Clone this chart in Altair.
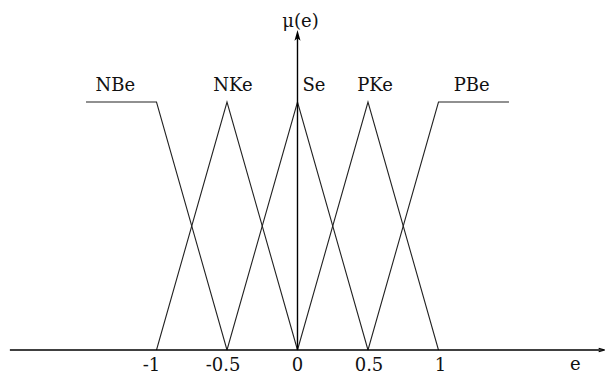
import altair as alt
import pandas as pd

# Membership functions for the error e
sets = ["NBe", "NKe", "Se", "PKe", "PBe"]
e_points = {
    "NBe": [-1.5, -1.0, -0.5],
    "NKe": [-1.0, -0.5, 0.0],
    "Se": [-0.5, 0.0, 0.5],
    "PKe": [0.0, 0.5, 1.0],
    "PBe": [0.5, 1.0, 1.5],
}
mu_points = {
    "NBe": [1, 1, 0],
    "NKe": [0, 1, 0],
    "Se": [0, 1, 0],
    "PKe": [0, 1, 0],
    "PBe": [0, 1, 1],
}
tick_values = [-1, -0.5, 0, 0.5, 1]
tick_labels = ["-1", "-0.5", "0", "0.5", "1"]

# label anchor (e) for each set name, drawn above the plateau/peak
label_e = [-1.25, -0.5, 0.0, 0.5, 1.25]
label_dx = [-6, 6, 5, 7, -2]
label_align = ["center", "center", "left", "center", "center"]

W, H = 605, 375
X_DOM = [-2.11, 2.181]
Y_DOM = [-0.1008, 1.4113]
FONT = "DejaVu Serif"
FS = 18

xs = alt.Scale(domain=X_DOM, range=[0, W], nice=False, zero=False)
ys = alt.Scale(domain=Y_DOM, range=[H, 0], nice=False, zero=False)

rows = []
for s in sets:
    for i, (e, m) in enumerate(zip(e_points[s], mu_points[s])):
        rows.append({"set": s, "e": e, "mu": m, "i": i})
mf = pd.DataFrame(rows)

X = lambda f="e": alt.X(f"{f}:Q", scale=xs, axis=None)
Y = lambda f="mu": alt.Y(f"{f}:Q", scale=ys, axis=None)

curves = alt.Chart(mf).mark_line(color="#222", strokeWidth=1.1).encode(
    x=X(), y=Y(), detail="set:N", order="i:Q"
)

# coordinate axes
axes_df = pd.DataFrame({
    "e": [-2.04, 0.0], "e2": [2.17, 0.0],
    "mu": [0.0, 0.0], "mu2": [0.0, 1.265],
})
axes_lines = alt.Chart(axes_df).mark_rule(color="black", strokeWidth=1.4).encode(
    x=X(), x2="e2:Q", y=Y(), y2="mu2:Q"
)

arrow_path = "M0,0 L0.45,1.6 L0,1.2 L-0.45,1.6 Z"
arrow_up = alt.Chart(pd.DataFrame({"e": [0.0], "mu": [1.29]})).mark_point(
    shape=arrow_path, filled=True, color="black", size=180, opacity=1
).encode(x=X(), y=Y())
arrow_right = alt.Chart(pd.DataFrame({"e": [2.18], "mu": [0.0]})).mark_point(
    shape="M0,0 L0.45,1.6 M0,0 L-0.45,1.6", filled=False, color="black",
    size=60, angle=90, strokeWidth=1.2, opacity=1
).encode(x=X(), y=Y())

labels_df = pd.DataFrame({"set": sets, "e": label_e, "dx": label_dx, "align": label_align})
set_labels = []
for _, r in labels_df.iterrows():
    set_labels.append(
        alt.Chart(pd.DataFrame([r])).mark_text(
            font=FONT, fontSize=FS, color="#111", align=r["align"],
            baseline="alphabetic", dx=int(r["dx"]), dy=-11
        ).encode(x=X(), y=alt.Y("one:Q", scale=ys, axis=None), text="set:N")
        .transform_calculate(one="1")
    )

ticks_df = pd.DataFrame({"e": tick_values, "t": tick_labels,
                         "dx": [-5, -4, 0, 1, 2]})
tick_text = [
    alt.Chart(ticks_df.iloc[[k]]).mark_text(
        font=FONT, fontSize=FS, color="#111", baseline="alphabetic",
        dx=int(ticks_df.iloc[k]["dx"]), dy=21
    ).encode(x=X(), y=alt.Y("z:Q", scale=ys, axis=None), text="t:N")
    .transform_calculate(z="0")
    for k in range(len(ticks_df))
]

mu_name = alt.Chart(pd.DataFrame({"e": [0.0], "mu": [1.265], "t": ["μ(e)"]})).mark_text(
    font=FONT, fontSize=FS, color="#111", baseline="alphabetic", dx=3, dy=-9
).encode(x=X(), y=Y(), text="t:N")
e_name = alt.Chart(pd.DataFrame({"e": [1.97], "mu": [0.0], "t": ["e"]})).mark_text(
    font=FONT, fontSize=FS, color="#111", baseline="alphabetic", dy=20
).encode(x=X(), y=Y(), text="t:N")

chart = alt.layer(
    curves, axes_lines, arrow_up, arrow_right, *set_labels, *tick_text, mu_name, e_name
).properties(
    width=W, height=H, padding=0, autosize=alt.AutoSizeParams(type="none"),
    background="white"
).configure_view(stroke=None)

chart.save("out.html", embed_options={"renderer": "svg", "actions": False})
